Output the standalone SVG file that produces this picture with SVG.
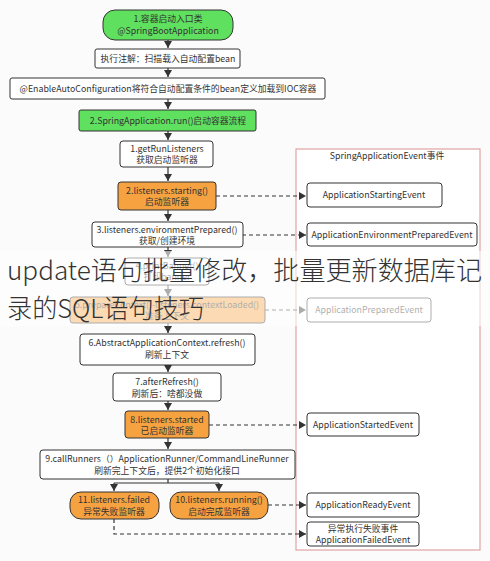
<svg xmlns="http://www.w3.org/2000/svg" width="490" height="561" viewBox="0 0 490 561">
<defs>
<style>
text{font-family:"Noto Sans CJK SC","Noto Sans",sans-serif;font-size:8.8px;fill:#333;text-anchor:middle}
.n{fill:#fff;stroke:#333;stroke-width:1}
.g{fill:#5fe05f;stroke:#333;stroke-width:1}
.o{fill:#f7a241;stroke:#333;stroke-width:1}
.e{fill:#fff;stroke:#333;stroke-width:1}
.c{fill:none;stroke:#333;stroke-width:1.2}
.d{fill:none;stroke:#333;stroke-width:1.2;stroke-dasharray:4 3}
.ov{font-family:"Noto Sans CJK SC",sans-serif;font-size:26px;fill:#333;text-anchor:start;font-weight:300}
</style>
<marker id="a" markerUnits="userSpaceOnUse" markerWidth="8" markerHeight="8" refX="7" refY="4" orient="auto">
<path d="M0,0 L7,4 L0,8 z" fill="#333"/>
</marker>
</defs>
<rect width="490" height="561" fill="#fbfbfb"/>
<g id="panel">
<rect x="296" y="149" width="184" height="401" fill="#fff" stroke="#e2a3a3" stroke-width="1.2"/>
<text x="387" y="159" font-size="8.5">SpringApplicationEvent事件</text>
</g>
<g id="connectors">
<path class="c" d="M168,40 V48" marker-end="url(#a)"/>
<path class="c" d="M168,68 V77" marker-end="url(#a)"/>
<path class="c" d="M168,99 V109" marker-end="url(#a)"/>
<path class="c" d="M168,131 V140" marker-end="url(#a)"/>
<path class="c" d="M168,167 V181" marker-end="url(#a)"/>
<path class="c" d="M168,210 V221" marker-end="url(#a)"/>
<path class="c" d="M168,247 V257" marker-end="url(#a)"/>
<path class="c" d="M168,285 V296" marker-end="url(#a)"/>
<path class="c" d="M168,323 V333" marker-end="url(#a)"/>
<path class="c" d="M168,365 V372" marker-end="url(#a)"/>
<path class="c" d="M168,401 V410" marker-end="url(#a)"/>
<path class="c" d="M168,438 V449" marker-end="url(#a)"/>
<path class="c" d="M168,479 V483 M114,483 H219"/>
<path class="c" d="M114,483 V491" marker-end="url(#a)"/>
<path class="c" d="M219,483 V491" marker-end="url(#a)"/>
<path class="d" d="M216,196 H306" marker-end="url(#a)"/>
<path class="d" d="M242,235 H306" marker-end="url(#a)"/>
<path class="d" d="M265,310 H306" marker-end="url(#a)"/>
<path class="d" d="M209,425 H306" marker-end="url(#a)"/>
<path class="d" d="M268,505 H306" marker-end="url(#a)"/>
<path class="d" d="M114,519 V534 H306" marker-end="url(#a)"/>
</g>
<g id="n1"><rect class="g" x="103" y="10" width="130" height="30" rx="12"/><text x="168" y="22">1.容器启动入口类</text><text x="168" y="34" font-size="9.5">@SpringBootApplication</text></g>
<g id="n2"><rect class="n" x="95" y="49" width="145" height="19" rx="2"/><text x="168" y="62">执行注解：扫描载入自动配置bean</text></g>
<g id="n3"><rect class="n" x="10" y="78" width="315" height="21" rx="2"/><text x="168" y="92">@EnableAutoConfiguration将符合自动配置条件的bean定义加载到IOC容器</text></g>
<g id="n4"><rect class="g" x="79" y="110" width="177" height="21" rx="2"/><text x="168" y="124">2.SpringApplication.run()启动容器流程</text></g>
<g id="s1"><rect class="n" x="120" y="141" width="93" height="26" rx="3"/><text x="167" y="152">1.getRunListeners</text><text x="167" y="163">获取启动监听器</text></g>
<g id="s2"><rect class="o" x="118" y="182" width="98" height="28" rx="3"/><text x="167" y="194">2.listeners.starting()</text><text x="167" y="205">启动监听器</text></g>
<g id="s3"><rect class="n" x="92" y="222" width="151" height="25" rx="3"/><text x="167" y="233">3.listeners.environmentPrepared()</text><text x="167" y="244">获取/创建环境</text></g>
<g id="s4"><rect class="n" x="125" y="258" width="84" height="27" rx="3"/><text x="167" y="269">4.printBanner()</text><text x="167" y="280">打印banner</text></g>
<g id="s5"><rect class="o" x="70" y="297" width="195" height="26" rx="3"/><text x="167" y="308">5.prepareContext()-listeners.contextLoaded()</text><text x="167" y="319">准备上下文</text></g>
<g id="s6"><rect class="n" x="80" y="334" width="175" height="31" rx="3"/><text x="167" y="346">6.AbstractApplicationContext.refresh()</text><text x="167" y="358">刷新上下文</text></g>
<g id="s7"><rect class="n" x="113" y="373" width="108" height="28" rx="3"/><text x="167" y="385">7.afterRefresh()</text><text x="167" y="397">刷新后：啥都没做</text></g>
<g id="s8"><rect class="o" x="125" y="411" width="84" height="27" rx="3"/><text x="167" y="423">8.listeners.started</text><text x="167" y="434">已启动监听器</text></g>
<g id="s9"><rect class="n" x="40" y="450" width="255" height="29" rx="3"/><text x="167" y="462">9.callRunners（）ApplicationRunner/CommandLineRunner</text><text x="167" y="474">刷新完上下文后，提供2个初始化接口</text></g>
<g id="s11"><rect class="o" x="70" y="492" width="89" height="27" rx="11"/><text x="114" y="503">11.listeners.failed</text><text x="114" y="515">异常失败监听器</text></g>
<g id="s10"><rect class="o" x="170" y="492" width="98" height="27" rx="11"/><text x="219" y="503">10.listeners.running()</text><text x="219" y="515">启动完成监听器</text></g>
<g id="e1"><rect class="e" x="307" y="183" width="135" height="24" rx="3"/><text x="374" y="198">ApplicationStartingEvent</text></g>
<g id="e2"><rect class="e" x="307" y="223" width="170" height="23" rx="3"/><text x="392" y="238">ApplicationEnvironmentPreparedEvent</text></g>
<g id="e3"><rect class="e" x="307" y="298" width="124" height="24" rx="3"/><text x="369" y="313">ApplicationPreparedEvent</text></g>
<g id="e4"><rect class="e" x="307" y="413" width="112" height="23" rx="3"/><text x="363" y="428">ApplicationStartedEvent</text></g>
<g id="e5"><rect class="e" x="307" y="493" width="112" height="24" rx="3"/><text x="363" y="508">ApplicationReadyEvent</text></g>
<g id="e6"><rect class="e" x="307" y="522" width="112" height="24" rx="3"/><text x="363" y="532">异常执行失败事件</text><text x="363" y="543">ApplicationFailedEvent</text></g>
<g id="overlay">
<rect x="0" y="251" width="490" height="75" fill="#fff" opacity="0.6"/>
<text class="ov" x="7" y="280" textLength="475" lengthAdjust="spacingAndGlyphs">update语句批量修改，批量更新数据库记</text>
<text class="ov" x="7" y="318" textLength="197" lengthAdjust="spacingAndGlyphs">录的SQL语句技巧</text>
</g>
</svg>
